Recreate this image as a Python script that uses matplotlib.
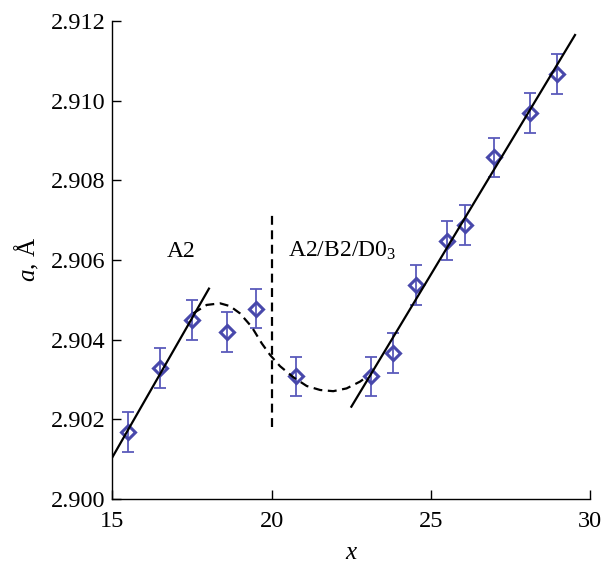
import matplotlib
matplotlib.use("Agg")
import matplotlib.pyplot as plt

plt.rcParams['font.family'] = ['Liberation Serif', 'DejaVu Serif']
plt.rcParams['mathtext.fontset'] = 'custom'
plt.rcParams['mathtext.rm'] = 'Liberation Serif'
plt.rcParams['mathtext.it'] = 'Liberation Serif:italic'

# measured data
x_pts = [15.5, 16.5, 17.5, 18.6, 19.5, 20.75, 23.13, 23.82, 24.53, 25.51, 26.08, 26.97, 28.11, 28.95]
a_pts = [2.90168, 2.90328, 2.90450, 2.90418, 2.90478, 2.90307, 2.90307, 2.90367,
         2.90538, 2.90649, 2.90688, 2.90858, 2.90969, 2.91068]
a_err = [0.0005] * 14

# linear fits
fit1_x = [15.0, 18.03]
fit1_y = [2.90104, 2.90528]
fit2_x = [22.5, 29.52]
fit2_y = [2.90231, 2.91166]

# dashed guide curve
curve_x = [17.54, 17.96, 18.38, 18.69, 19.0, 19.37, 19.69, 19.95, 20.26, 20.68,
           21.10, 21.52, 21.93, 22.35, 22.77, 22.98]
curve_y = [2.90466, 2.90487, 2.90491, 2.90484, 2.90466, 2.90432, 2.90390, 2.90361,
           2.90333, 2.90305, 2.90283, 2.90273, 2.90270, 2.90277, 2.90294, 2.90306]

# phase boundary
bound_x = [20.0, 20.0]
bound_y = [2.90180, 2.90723]

xticks = [15, 20, 25, 30]
yticks = [2.900, 2.902, 2.904, 2.906, 2.908, 2.910, 2.912]

fig = plt.figure(figsize=(6.09, 5.64), dpi=100)
ax = fig.add_axes([0.1846, 0.1161, 0.7847, 0.8458])

blue = '#4848ab'
ax.errorbar(x_pts, a_pts, yerr=a_err, fmt='none', ecolor='#5a5abb',
            elinewidth=1.3, capsize=4, capthick=1.3, zorder=2)
ax.plot(x_pts, a_pts, linestyle='none', marker='D', markersize=7.5,
        markerfacecolor='none', markeredgecolor=blue, markeredgewidth=2.2, zorder=3)

ax.plot(fit1_x, fit1_y, color='black', lw=1.6, zorder=4)
ax.plot(fit2_x, fit2_y, color='black', lw=1.6, zorder=4)
ax.plot(curve_x, curve_y, color='black', lw=1.6, linestyle=(0, (4, 2.5)), zorder=4)
ax.plot(bound_x, bound_y, color='black', lw=1.6, linestyle=(0, (4, 2.5)), zorder=4)

ax.text(16.7, 2.90608, 'A2', fontsize=17, ha='left', va='baseline')
ax.text(20.51, 2.90608, 'A2/B2/D0$_3$', fontsize=17, ha='left', va='baseline')

ax.set_xlim(15, 30)
ax.set_ylim(2.900, 2.912)
ax.set_xticks(xticks)
ax.set_yticks(yticks)
ax.set_xticklabels([str(t) for t in xticks])
ax.set_yticklabels([f'{t:.3f}' for t in yticks])
ax.tick_params(direction='in', length=6.5, width=1.0, labelsize=17.5)
ax.tick_params(axis='y', pad=5)
ax.tick_params(axis='x', pad=9)
ax.spines['top'].set_visible(False)
ax.spines['right'].set_visible(False)
for s in ('left', 'bottom'):
    ax.spines[s].set_linewidth(1.0)

ax.set_xlabel('$x$', fontsize=18, labelpad=7)
ax.set_ylabel('$a$, Å', fontsize=18, labelpad=7)

fig.savefig('out.png', dpi=100)
